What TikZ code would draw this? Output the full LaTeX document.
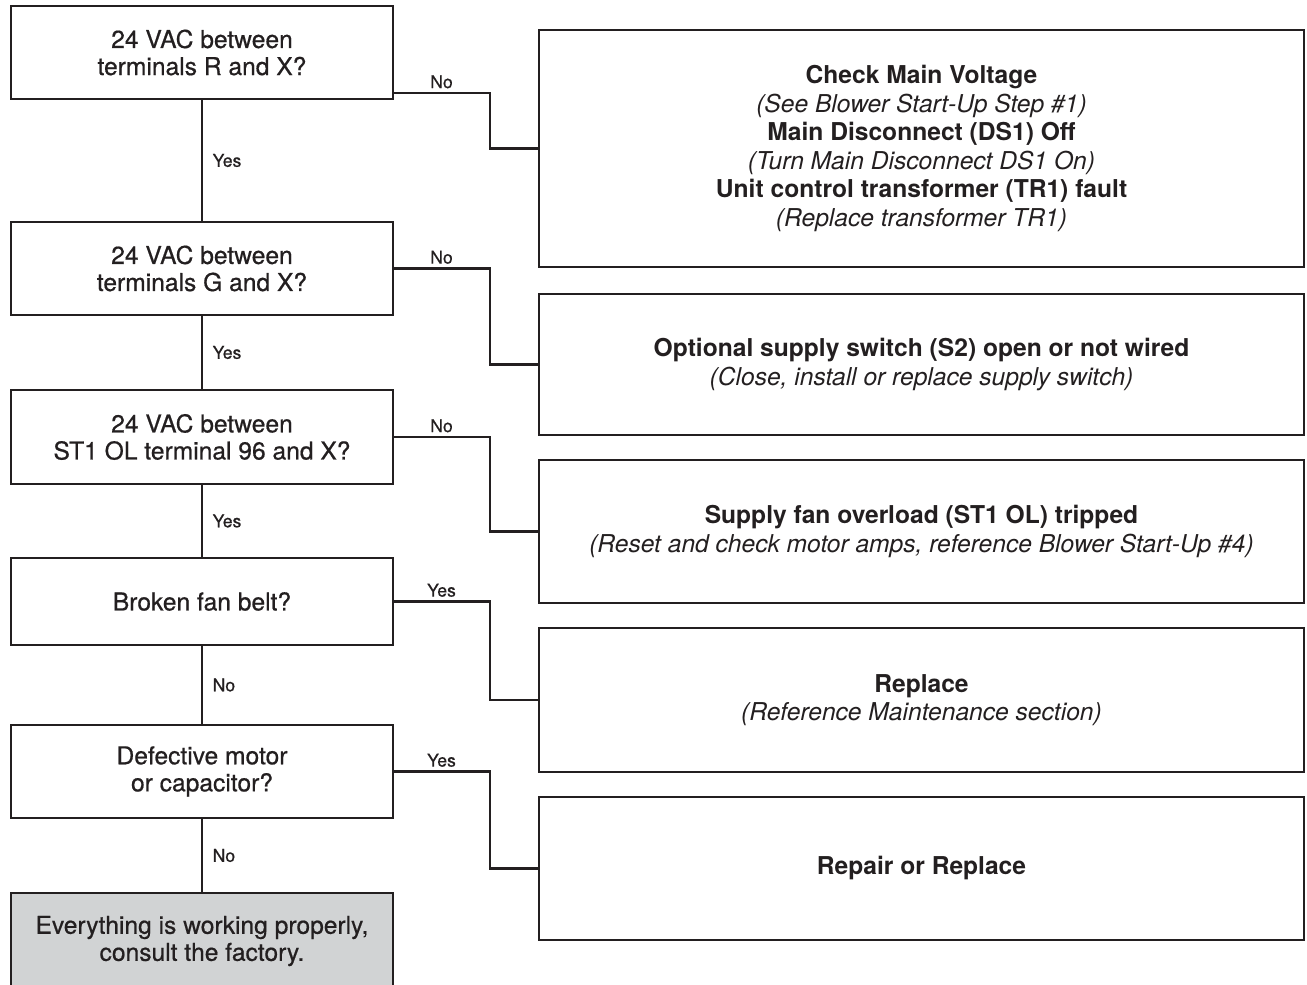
\documentclass[tikz,border=0pt]{standalone}
\usepackage{fontspec}
\setmainfont{TeX Gyre Heros}
\newfontfamily\medfont[FakeBold=0.6]{TeX Gyre Heros}
\usetikzlibrary{positioning,calc}
\definecolor{inkline}{RGB}{35,31,32}
\definecolor{endgray}{RGB}{209,211,212}
\begin{document}
\begin{tikzpicture}[line width=1.3pt, draw=inkline, text=inkline,
    ques/.style={draw=inkline,rectangle,minimum width=7.64cm,minimum height=1.86cm,inner sep=0pt,outer sep=0pt,align=center,font=\medfont\fontsize{14}{15.4}\selectfont},
    fix/.style={draw=inkline,rectangle,minimum width=15.3cm,minimum height=2.86cm,inner sep=0pt,outer sep=0pt,align=center,font=\fontsize{14}{16.2}\selectfont},
    lbl/.style={font=\medfont\fontsize{10}{12}\selectfont,inner sep=2pt}]
%
   \useasboundingbox (0,0) rectangle (26.14,-19.7);
   \node[ques]                        (Q1) at (4.04,-1.05) {24 VAC between\\terminals R and X?};
   \node[ques] [below=2.46cm of Q1]   (Q2) {24 VAC between\\terminals G and X?};
   \node[ques,minimum height=1.88cm] [below=1.5cm of Q2]  (Q3) {24 VAC between\\ST1 OL terminal 96 and X?};
   \node[ques,minimum height=1.74cm] [below=1.48cm of Q3] (Q4) {Broken fan belt?};
   \node[ques] [below=1.6cm of Q4]    (Q5) {Defective motor\\or capacitor?};
   \node[ques,fill=endgray,minimum height=1.92cm] [below=1.5cm of Q5] (Q6) {Everything is working properly,\\consult the factory.};
%
   \node[fix,minimum height=4.74cm]   (F1) at (18.43,-2.97) {\textbf{Check Main Voltage}\\\textit{(See Blower Start-Up Step \#1)}\\\textbf{Main Disconnect (DS1) Off}\\\textit{(Turn Main Disconnect DS1 On)}\\\textbf{Unit control transformer (TR1) fault}\\\textit{(Replace transformer TR1)}};
   \node[fix,minimum height=2.82cm] [below=0.54cm of F1] (F2) {\textbf{Optional supply switch (S2) open or not wired}\\\textit{(Close, install or replace supply switch)}};
   \node[fix] [below=0.5cm of F2]     (F3) {\textbf{Supply fan overload (ST1 OL) tripped}\\\textit{(Reset and check motor amps, reference Blower Start-Up \#4)}};
   \node[fix,minimum height=2.88cm] [below=0.5cm of F3] (F4) {\textbf{Replace}\\\textit{(Reference Maintenance section)}};
   \node[fix] [below=0.5cm of F4]     (F5) {\textbf{Repair or Replace}};
%
   \draw (Q1) -- node[lbl,right,xshift=0.12cm] {Yes} (Q2);
   \draw (Q2) -- node[lbl,right,xshift=0.12cm] {Yes} (Q3);
   \draw (Q3) -- node[lbl,right,xshift=0.12cm] {Yes} (Q4);
   \draw (Q4) -- node[lbl,right,xshift=0.12cm] {No} (Q5);
   \draw (Q5) -- node[lbl,right,xshift=0.12cm] {No} (Q6);
%
   \draw ([yshift=0.12cm]Q1.south east) -- node[lbl,above] {No} ++(1.94,0) |- (F1.west);
   \draw (Q2.east) -- node[lbl,above] {No} ++(1.94,0) |- (F2.west);
   \draw (Q3.east) -- node[lbl,above] {No} ++(1.94,0) |- (F3.west);
   \draw (Q4.east) -- node[lbl,above] {Yes} ++(1.94,0) |- (F4.west);
   \draw (Q5.east) -- node[lbl,above] {Yes} ++(1.94,0) |- (F5.west);
\end{tikzpicture}
\end{document}
